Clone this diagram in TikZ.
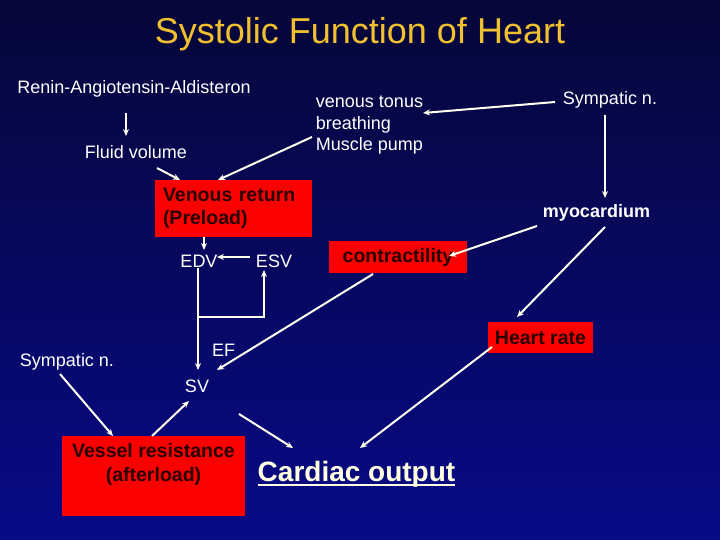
\documentclass[tikz,border=0pt]{standalone}
\usepackage{fontspec}
\setmainfont{Liberation Sans}
\usetikzlibrary{arrows.meta}
\definecolor{bgtop}{RGB}{6,6,56}
\definecolor{bgbot}{RGB}{8,10,135}
\definecolor{titlecol}{RGB}{240,192,48}
\definecolor{boxred}{RGB}{252,0,0}
\definecolor{boxtxt}{RGB}{40,0,0}
\definecolor{linecol}{RGB}{255,255,238}
\definecolor{cocol}{RGB}{255,255,225}
\tikzset{
  lbl/.style={text=white, inner sep=0pt, font=\fontsize{18}{21.5}\selectfont},
  redbox/.style={fill=boxred, draw=none, text=boxtxt, inner sep=0pt,
    font=\bfseries\fontsize{19.5}{23}\selectfont},
  boxtext/.style={text=boxtxt, inner sep=0pt, font=\bfseries\fontsize{19.5}{24}\selectfont},
  conn/.style={draw=linecol, line width=2pt, -{Stealth[length=7pt,width=6pt]}},
  plain/.style={draw=linecol, line width=2pt}
}
\begin{document}
\begin{tikzpicture}[x=1pt,y=-1pt]
\shade[top color=bgtop, bottom color=bgbot] (0,0) rectangle (720,540);
\useasboundingbox (0,0) rectangle (720,540);

\node[inner sep=0pt, text=titlecol, font=\fontsize{36}{40}\selectfont] (title) at (360,34) {Systolic Function of Heart};

\node[lbl] (raa) at (134,89) {Renin-Angiotensin-Aldisteron};
\node[lbl] (fluid) at (136,152) {Fluid volume};
\node[lbl, align=left] (vt) at (369.5,125.5) {venous tonus\\breathing\\Muscle pump};
\node[lbl] (sym1) at (610,100) {Sympatic n.};
\node[lbl, font=\bfseries\fontsize{18}{21.5}\selectfont] (myo) at (596.5,213) {myocardium};

\node[redbox, minimum width=157, minimum height=57, text width=141, align=left] (vbox) at (233.5,208.5) {Venous return\\(Preload)};
\node[lbl] (edv) at (199,261) {EDV};
\node[lbl] (esv) at (274,261) {ESV};
\node[redbox, minimum width=138, minimum height=32] (cbox) at (398,257) {contractility};
\node[redbox, minimum width=105, minimum height=31] (hr) at (540.5,337.5) {Heart rate};
\node[lbl] (ef) at (223.5,350) {EF};
\node[lbl] (sv) at (197,386) {SV};
\node[lbl] (sym2) at (67,362) {Sympatic n.};
\node[redbox, minimum width=183, minimum height=80] (vr) at (153.5,475.5) {};
\node[boxtext, align=center] (vrtext) at (153.5,464) {Vessel resistance\\(afterload)};
\node[inner sep=0pt, anchor=base, text=cocol, font=\bfseries\fontsize{28}{32}\selectfont] (co) at (356.5,481) {Cardiac output};
\draw[draw=cocol, line width=2pt] ([yshift=-3.5]co.base west) -- ([yshift=-3.5]co.base east);

% connectors
\draw[conn] ([shift={(-8,24)}]raa.center) -- ([shift={(-10,-16)}]fluid.center);
\draw[conn] ([shift={(21,16)}]fluid.center) -- ([shift={(-53.5,-28.5)}]vbox.center);
\draw[conn] ([shift={(-57.5,11.5)}]vt.center) -- ([shift={(-15.5,-28.5)}]vbox.center);
\draw[conn] ([shift={(-55,2)}]sym1.center) -- ([shift={(53.5,-12.5)}]vt.center);
\draw[conn] ([shift={(-5,15)}]sym1.center) -- ([shift={(8.5,-15)}]myo.center);
\draw[conn] ([shift={(-29.5,28.5)}]vbox.center) -- ([shift={(5,-11)}]edv.center);
\draw[conn] ([shift={(-24,-4)}]esv.center) -- ([shift={(18,-4)}]edv.center);
\draw[conn] ([shift={(-1,7)}]edv.center) -- ([shift={(1,-16)}]sv.center);
\draw[conn] ([shift={(-1,56)}]edv.center) -| ([shift={(-10,9)}]esv.center);
\draw[conn] ([shift={(-25,17)}]cbox.center) -- ([shift={(20,-16)}]sv.center);
\draw[conn] ([shift={(-59.5,13)}]myo.center) -- ([shift={(51,-1)}]cbox.center);
\draw[conn] ([shift={(8.5,14)}]myo.center) -- ([shift={(-23.5,-20.5)}]hr.center);
\draw[conn] ([shift={(-48.5,9.5)}]hr.center) -- ([shift={(3.5,-33)}]co.base);
\draw[conn] ([shift={(-7,12)}]sym2.center) -- ([shift={(-40.5,-39.5)}]vr.center);
\draw[conn] ([shift={(-1.5,-39.5)}]vr.center) -- ([shift={(-8,15)}]sv.center);
\draw[conn] ([shift={(42,28)}]sv.center) -- ([shift={(-63.5,-33)}]co.base);
\end{tikzpicture}
\end{document}
